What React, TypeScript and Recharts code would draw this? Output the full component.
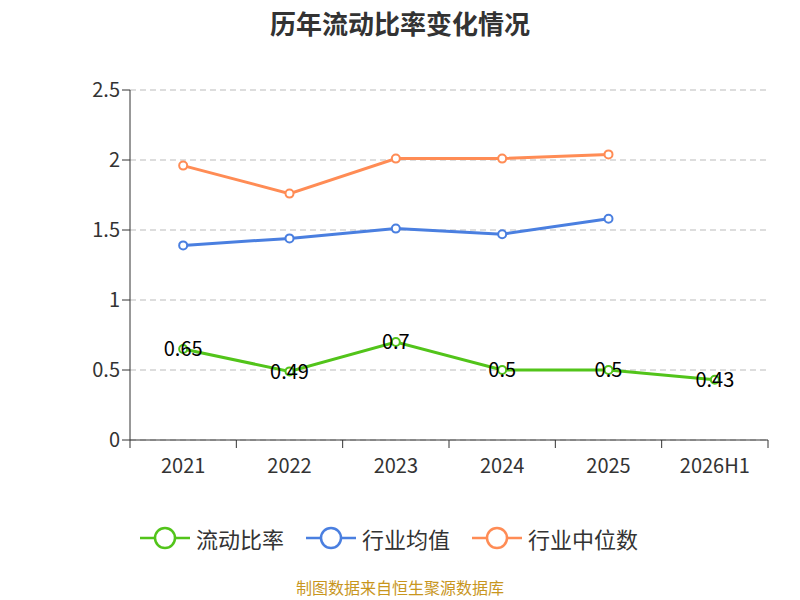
import React from "react";
import { LineChart, Line, XAxis, YAxis, CartesianGrid, LabelList } from "recharts";

const categories = ["2021", "2022", "2023", "2024", "2025", "2026H1"];
const currentRatio = [0.65, 0.49, 0.7, 0.5, 0.5, 0.43];
const industryAvg = [1.39, 1.44, 1.51, 1.47, 1.58, null];
const industryMedian = [1.96, 1.76, 2.01, 2.01, 2.04, null];
const yTicks = [0, 0.5, 1, 1.5, 2, 2.5];

const data = categories.map((c, i) => ({
  name: c,
  a: currentRatio[i],
  b: industryAvg[i],
  c: industryMedian[i],
}));

const font = "'Noto Sans CJK SC', 'Noto Sans', sans-serif";
const GREEN = "#52c41a";
const BLUE = "#4a7fe0";
const ORANGE = "#ff8c55";

const XTick = (props: any) => {
  const { x, y, payload, index } = props;
  const half = 638 / 12;
  return (
    <g>
      <line x1={x - half} x2={x - half} y1={y - 8} y2={y} stroke="#333" />
      {index === categories.length - 1 && (
        <line x1={x + half} x2={x + half} y1={y - 8} y2={y} stroke="#333" />
      )}
      <text x={x} y={y + 25} textAnchor="middle" fontSize={20} fill="#333" fontFamily={font}>
        {payload.value}
      </text>
    </g>
  );
};

const LegendItem = ({ color, label }: { color: string; label: string }) => (
  <div style={{ display: "flex", alignItems: "center", marginRight: 22 }}>
    <svg width={50} height={26}>
      <line x1={0} x2={50} y1={13} y2={13} stroke={color} strokeWidth={2.5} />
      <circle cx={25} cy={13} r={10} fill="#fff" stroke={color} strokeWidth={2.5} />
    </svg>
    <span style={{ fontSize: 22, color: "#333", marginLeft: 6 }}>{label}</span>
  </div>
);

export default function App() {
  return (
    <div style={{ position: "absolute", left: 0, top: 0, width: 800, height: 600, background: "#fff", fontFamily: font }}>
      <div style={{ position: "absolute", top: 4, width: 800, textAlign: "center", fontSize: 26, fontWeight: "bold", color: "#333" }}>
        历年流动比率变化情况
      </div>
      <LineChart width={800} height={600} data={data} margin={{ top: 90, right: 32, left: 70, bottom: 120 }}>
        <CartesianGrid vertical={false} stroke="#bbb" strokeDasharray="6 4" />
        <XAxis dataKey="name" scale="band" tickLine={false} stroke="#333" tick={<XTick />} height={40} interval={0} />
        <YAxis domain={[0, 2.5]} ticks={yTicks} width={60} stroke="#333" tick={{ fontSize: 20, fill: "#333", fontFamily: font }} tickSize={8} />
        <Line dataKey="c" stroke={ORANGE} strokeWidth={3} dot={{ r: 4, fill: "#fff", stroke: ORANGE, strokeWidth: 2 }} isAnimationActive={false} />
        <Line dataKey="b" stroke={BLUE} strokeWidth={3} dot={{ r: 4, fill: "#fff", stroke: BLUE, strokeWidth: 2 }} isAnimationActive={false} />
        <Line dataKey="a" stroke={GREEN} strokeWidth={3} dot={{ r: 4, fill: "#fff", stroke: GREEN, strokeWidth: 2 }} isAnimationActive={false}>
          <LabelList dataKey="a" position="center" fontSize={20} fill="#000" fontFamily={font} />
        </Line>
      </LineChart>
      <div style={{ position: "absolute", top: 522, width: 800, display: "flex", justifyContent: "center" }}>
        <LegendItem color={GREEN} label="流动比率" />
        <LegendItem color={BLUE} label="行业均值" />
        <LegendItem color={ORANGE} label="行业中位数" />
      </div>
      <div style={{ position: "absolute", top: 576, width: 800, textAlign: "center", fontSize: 16, lineHeight: "22px", color: "#c8961e" }}>
        制图数据来自恒生聚源数据库
      </div>
    </div>
  );
}
